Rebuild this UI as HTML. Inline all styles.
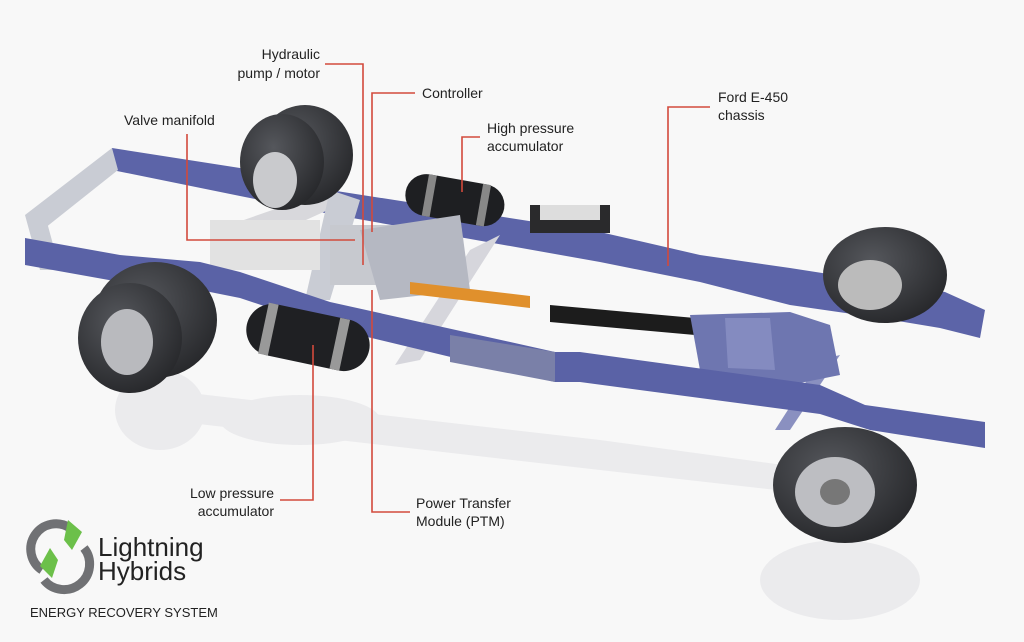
<!DOCTYPE html>
<html><head><meta charset="utf-8"><style>
html,body{margin:0;padding:0;background:#f8f8f8;}
svg{display:block}
text{font-family:"Liberation Sans",sans-serif;fill:#222;}
</style></head><body>
<svg width="1024" height="642" viewBox="0 0 1024 642" xmlns="http://www.w3.org/2000/svg">
<defs>
<radialGradient id="tire" cx="0.4" cy="0.35" r="0.7"><stop offset="0" stop-color="#55575c"/><stop offset="1" stop-color="#26272a"/></radialGradient>
</defs>
<rect width="1024" height="642" fill="#f8f8f8"/>
<!-- reflections -->
<g fill="#ebebed">
<ellipse cx="160" cy="410" rx="45" ry="40"/>
<polygon points="120,385 600,440 820,470 820,495 600,470 120,415"/>
<ellipse cx="840" cy="580" rx="80" ry="40"/>
<ellipse cx="300" cy="420" rx="80" ry="25"/>
</g>
<!-- far rail -->
<polygon points="112,148 240,168 300,180 330,190 600,232 700,255 790,268 880,282 945,292 985,310 980,338 940,328 880,318 790,305 700,282 600,262 330,214 240,196 112,170" fill="#5c64a8"/>
<!-- grey crossmembers -->
<polygon points="25,215 112,148 118,170 40,232" fill="#c9ccd4"/>
<polygon points="25,215 45,215 60,270 40,270" fill="#c9ccd4"/>
<polygon points="215,230 330,190 350,200 240,250" fill="#d8d8dc"/>
<polygon points="470,250 500,235 420,360 395,365" fill="#d6d6dc"/>
<polygon points="330,190 360,200 330,300 305,300" fill="#c9ccd4"/>
<polygon points="820,360 840,355 790,430 775,430" fill="#8a90c0"/>
<!-- rear dual tires top-left -->
<ellipse cx="305" cy="155" rx="48" ry="50" fill="url(#tire)"/>
<ellipse cx="282" cy="162" rx="42" ry="48" fill="url(#tire)"/>
<ellipse cx="275" cy="180" rx="22" ry="28" fill="#c9cacd"/>
<!-- high pressure accumulator -->
<g transform="rotate(10 460 200)"><rect x="405" y="180" width="100" height="42" rx="21" fill="#1e1f22"/><rect x="425" y="180" width="8" height="42" fill="#888"/><rect x="480" y="180" width="8" height="42" fill="#888"/></g>
<rect x="530" y="205" width="80" height="28" fill="#2a2a2c"/>
<rect x="540" y="205" width="60" height="15" fill="#ddd"/>
<!-- right top tire -->
<ellipse cx="885" cy="275" rx="62" ry="48" fill="url(#tire)"/>
<ellipse cx="870" cy="285" rx="32" ry="25" fill="#bbb"/>
<!-- center components -->
<rect x="330" y="225" width="80" height="60" fill="#c7c9cf"/>
<polygon points="360,230 460,215 470,290 380,300" fill="#b5b8c2"/>
<rect x="210" y="220" width="110" height="50" fill="#e2e2e2"/>
<!-- driveshafts -->
<polygon points="410,282 530,296 530,308 410,294" fill="#e0902c"/>
<polygon points="550,305 695,318 695,335 550,322" fill="#1c1c1c"/>
<!-- transmission -->
<polygon points="690,315 790,312 830,325 840,375 790,385 700,370" fill="#6e76b0"/>
<polygon points="725,318 770,318 775,370 728,368" fill="#848bc0"/>
<!-- near rail -->
<polygon points="25,238 120,255 200,262 240,272 330,302 555,352 580,352 820,385 865,405 985,422 985,448 870,430 820,414 580,382 555,382 330,328 240,298 200,290 120,282 25,265" fill="#5a62a6"/>
<polygon points="450,335 555,352 555,382 450,362" fill="#7a80a8"/>
<!-- low pressure accumulator -->
<g transform="rotate(12 310 340)"><rect x="245" y="312" width="125" height="52" rx="26" fill="#1f2023"/><rect x="262" y="312" width="10" height="52" fill="#999"/><rect x="335" y="312" width="10" height="52" fill="#999"/></g>
<!-- left front tire -->
<ellipse cx="155" cy="320" rx="62" ry="58" fill="url(#tire)"/>
<ellipse cx="130" cy="338" rx="52" ry="55" fill="url(#tire)"/>
<ellipse cx="127" cy="342" rx="26" ry="33" fill="#b9babe"/>
<!-- right bottom tire -->
<ellipse cx="845" cy="485" rx="72" ry="58" fill="url(#tire)"/>
<ellipse cx="835" cy="492" rx="40" ry="35" fill="#bdbec2"/>
<ellipse cx="835" cy="492" rx="15" ry="13" fill="#777"/>
<!-- red leader lines -->
<g stroke="#d24a3c" stroke-width="1.6" fill="none">
<polyline points="325,64 363,64 363,265"/>
<polyline points="415,93 372,93 372,232"/>
<polyline points="187,134 187,240 355,240"/>
<polyline points="480,137 462,137 462,192"/>
<polyline points="710,107 668,107 668,266"/>
<polyline points="280,500 313,500 313,345"/>
<polyline points="410,512 372,512 372,290"/>
</g>
<!-- labels -->
<g font-size="14">
<text x="320" y="59" text-anchor="end">Hydraulic</text>
<text x="320" y="78" text-anchor="end">pump / motor</text>
<text x="422" y="98">Controller</text>
<text x="124" y="125">Valve manifold</text>
<text x="487" y="133">High pressure</text>
<text x="487" y="151">accumulator</text>
<text x="718" y="102">Ford E-450</text>
<text x="718" y="120">chassis</text>
<text x="274" y="498" text-anchor="end">Low pressure</text>
<text x="274" y="516" text-anchor="end">accumulator</text>
<text x="416" y="508">Power Transfer</text>
<text x="416" y="526">Module (PTM)</text>
</g>
<!-- logo -->
<g fill="none" stroke-width="9">
<path d="M70,528 A24,24 0 0 0 42,570" stroke="#707174"/>
<path d="M44,580 A24,24 0 0 0 84,548" stroke="#707174"/>
</g>
<polygon points="68,520 82,532 72,550 64,540" fill="#6cc04a"/>
<polygon points="52,578 40,566 50,548 58,560" fill="#6cc04a"/>
<text x="98" y="556" font-size="26" fill="#2a2a2a">Lightning</text>
<text x="98" y="580" font-size="26" fill="#2a2a2a">Hybrids</text>
<text x="30" y="617" font-size="13" fill="#333">ENERGY RECOVERY SYSTEM</text>
</svg>
</body></html>
